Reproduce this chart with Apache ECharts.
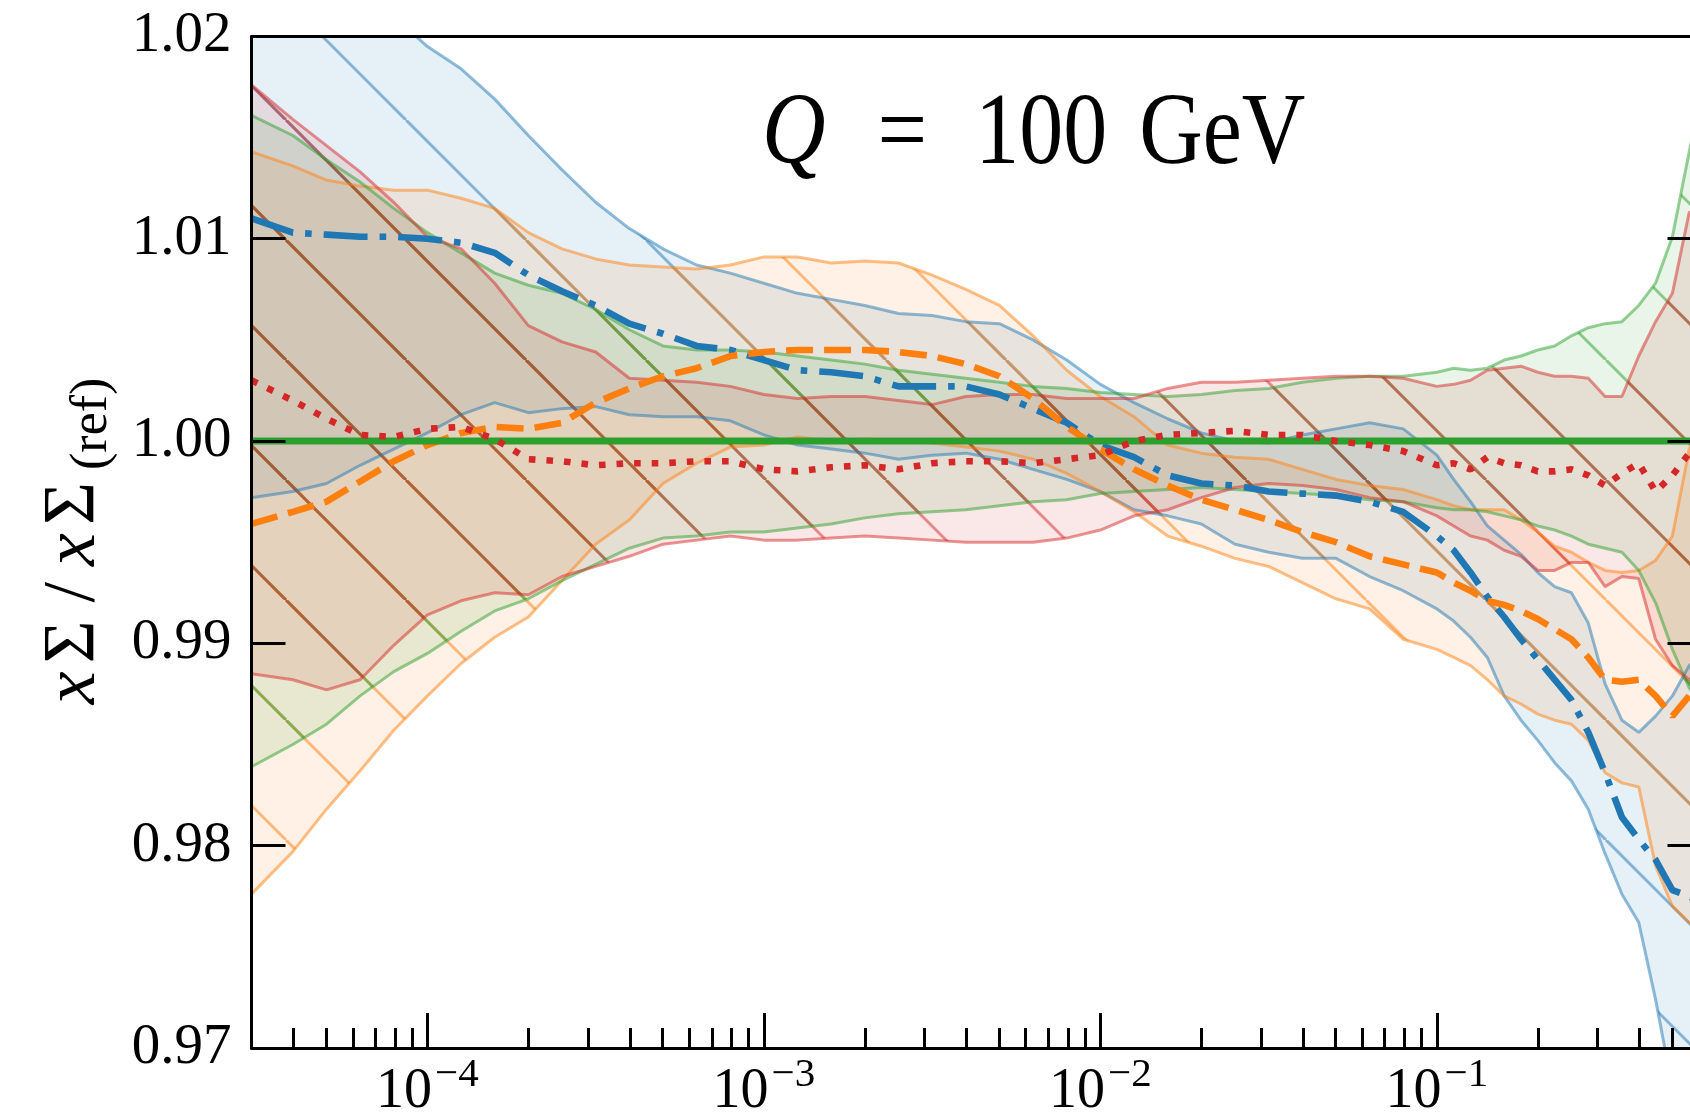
<!DOCTYPE html>
<html><head><meta charset="utf-8">
<script src="https://cdn.jsdelivr.net/npm/echarts@6/dist/echarts.min.js"></script>
<style>
html,body{margin:0;padding:0;overflow:hidden;background:#fff;width:1690px;height:1116px;}
#chart{position:absolute;left:0;top:0;width:1800px;height:1116px;}
</style></head><body><div id="chart"></div>
<script>
// x positions as log10(x)
const xExp = [-4.523, -4.4, -4.3, -4.2, -4.1, -4.0, -3.9, -3.8, -3.7, -3.6,
  -3.5, -3.4, -3.3, -3.2, -3.1, -3.0, -2.9, -2.8, -2.7, -2.6,
  -2.5, -2.4, -2.3, -2.2, -2.1, -2.0, -1.9, -1.8, -1.7, -1.6,
  -1.5, -1.4, -1.3, -1.2, -1.1, -1.0, -0.95, -0.9, -0.85, -0.8,
  -0.75, -0.7, -0.65, -0.6, -0.55, -0.5, -0.45, -0.4, -0.35, -0.3,
  -0.25, -0.21];

const blueMid = [1.0110, 1.0103, 1.0102, 1.0101, 1.0101, 1.0100, 1.0098, 1.0093, 1.0082, 1.0074,
  1.0067, 1.0058, 1.0053, 1.0047, 1.0045, 1.0040, 1.0035, 1.0034, 1.0032, 1.0027,
  1.0027, 1.0027, 1.0023, 1.0016, 1.0009, 0.9998, 0.9992, 0.9983, 0.9979, 0.9978,
  0.9975, 0.9974, 0.9973, 0.9970, 0.9965, 0.9953, 0.9946, 0.9935, 0.9923, 0.9913,
  0.9902, 0.9892, 0.9882, 0.9872, 0.9856, 0.9836, 0.9814, 0.9803, 0.9793, 0.9778,
  0.9775, 0.9770];
const orangeMid = [0.9959, 0.9965, 0.9970, 0.9980, 0.9990, 0.9998, 1.0004, 1.0007, 1.0006, 1.0009,
  1.0019, 1.0026, 1.0032, 1.0036, 1.0042, 1.0044, 1.0045, 1.0045, 1.0045, 1.0044,
  1.0042, 1.0038, 1.0032, 1.0021, 1.0007, 0.9996, 0.9986, 0.9978, 0.9971, 0.9966,
  0.9961, 0.9955, 0.9950, 0.9943, 0.9939, 0.9935, 0.9930, 0.9926, 0.9921, 0.9919,
  0.9916, 0.9912, 0.9907, 0.9902, 0.9893, 0.9882, 0.9881, 0.9882, 0.9874, 0.9864,
  0.9874, 0.9880];
const greenMid = [1, 1, 1, 1, 1, 1, 1, 1, 1, 1,
  1, 1, 1, 1, 1, 1, 1, 1, 1, 1,
  1, 1, 1, 1, 1, 1, 1, 1, 1, 1,
  1, 1, 1, 1, 1, 1, 1, 1, 1, 1,
  1, 1, 1, 1, 1, 1, 1, 1, 1, 1,
  1, 1];
const redMid = [1.0030, 1.0020, 1.0011, 1.0003, 1.0002, 1.0006, 1.0007, 1.0001, 0.9991, 0.9990,
  0.9988, 0.9989, 0.9989, 0.9990, 0.9990, 0.9986, 0.9985, 0.9987, 0.9988, 0.9986,
  0.9989, 0.9990, 0.9990, 0.9989, 0.9991, 0.9993, 1.0000, 1.0003, 1.0004, 1.0005,
  1.0003, 1.0003, 1.0000, 0.9998, 0.9995, 0.9988, 0.9989, 0.9986, 0.9992, 0.9989,
  0.9988, 0.9985, 0.9985, 0.9986, 0.9983, 0.9978, 0.9984, 0.9989, 0.9975, 0.9983,
  0.9994, 1.0000];

const blueUp = [1.0270, 1.0255, 1.0240, 1.0225, 1.0210, 1.0195, 1.0184, 1.0169, 1.0151, 1.0134,
  1.0118, 1.0105, 1.0095, 1.0087, 1.0083, 1.0078, 1.0073, 1.0070, 1.0067, 1.0063,
  1.0062, 1.0059, 1.0058, 1.0050, 1.0040, 1.0028, 1.0019, 1.0011, 1.0004, 1.0000,
  0.9999, 1.0003, 1.0006, 1.0009, 1.0006, 0.9993, 0.9981, 0.9970, 0.9958, 0.9951,
  0.9944, 0.9935, 0.9928, 0.9925, 0.9910, 0.9880, 0.9862, 0.9856, 0.9864, 0.9874,
  0.9889, 0.9895];
const blueLo = [0.9972, 0.9975, 0.9979, 0.9988, 0.9996, 1.0004, 1.0013, 1.0019, 1.0014, 1.0016,
  1.0017, 1.0013, 1.0012, 1.0012, 1.0010, 1.0003, 0.9998, 0.9996, 0.9994, 0.9991,
  0.9993, 0.9994, 0.9991, 0.9986, 0.9981, 0.9975, 0.9966, 0.9963, 0.9959, 0.9949,
  0.9945, 0.9942, 0.9942, 0.9933, 0.9926, 0.9917, 0.9911, 0.9903, 0.9893, 0.9874,
  0.9862, 0.9852, 0.9841, 0.9832, 0.9818, 0.9796, 0.9776, 0.9762, 0.9724, 0.9680,
  0.9650, 0.9630];
const orangeUp = [1.0143, 1.0136, 1.0129, 1.0126, 1.0124, 1.0124, 1.0120, 1.0115, 1.0103, 1.0095,
  1.0090, 1.0087, 1.0086, 1.0085, 1.0087, 1.0091, 1.0091, 1.0088, 1.0089, 1.0088,
  1.0082, 1.0075, 1.0067, 1.0052, 1.0035, 1.0022, 1.0012, 0.9998, 0.9994, 0.9992,
  0.9991, 0.9986, 0.9981, 0.9978, 0.9976, 0.9971, 0.9968, 0.9966, 0.9966, 0.9966,
  0.9961, 0.9955, 0.9948, 0.9945, 0.9940, 0.9936, 0.9935, 0.9936, 0.9941, 0.9953,
  0.9996, 1.0010];
const orangeLo = [0.9776, 0.9797, 0.9818, 0.9837, 0.9857, 0.9874, 0.9890, 0.9903, 0.9913, 0.9931,
  0.9949, 0.9961, 0.9979, 0.9989, 0.9997, 0.9998, 1.0002, 1.0000, 1.0001, 1.0000,
  0.9999, 0.9997, 0.9995, 0.9991, 0.9984, 0.9975, 0.9965, 0.9953, 0.9948, 0.9942,
  0.9938, 0.9930, 0.9922, 0.9917, 0.9902, 0.9897, 0.9893, 0.9889, 0.9882, 0.9874,
  0.9870, 0.9865, 0.9862, 0.9860, 0.9852, 0.9836, 0.9831, 0.9829, 0.9790, 0.9770,
  0.9762, 0.9755];
const greenUp = [1.0161, 1.0151, 1.0139, 1.0128, 1.0115, 1.0103, 1.0093, 1.0083, 1.0077, 1.0073,
  1.0065, 1.0055, 1.0047, 1.0045, 1.0045, 1.0044, 1.0042, 1.0040, 1.0038, 1.0035,
  1.0033, 1.0031, 1.0029, 1.0027, 1.0026, 1.0024, 1.0023, 1.0022, 1.0023, 1.0025,
  1.0026, 1.0029, 1.0031, 1.0032, 1.0032, 1.0034, 1.0036, 1.0035, 1.0036, 1.0040,
  1.0042, 1.0045, 1.0047, 1.0052, 1.0056, 1.0058, 1.0059, 1.0067, 1.0078, 1.0101,
  1.0143, 1.0175];
const greenLo = [0.9839, 0.9850, 0.9860, 0.9874, 0.9886, 0.9895, 0.9906, 0.9916, 0.9922, 0.9931,
  0.9939, 0.9947, 0.9952, 0.9953, 0.9955, 0.9955, 0.9957, 0.9959, 0.9962, 0.9964,
  0.9965, 0.9966, 0.9968, 0.9970, 0.9971, 0.9974, 0.9975, 0.9976, 0.9977, 0.9976,
  0.9975, 0.9974, 0.9973, 0.9971, 0.9970, 0.9967, 0.9966, 0.9966, 0.9965, 0.9963,
  0.9961, 0.9958, 0.9956, 0.9953, 0.9949, 0.9947, 0.9945, 0.9936, 0.9920, 0.9897,
  0.9878, 0.9868];
const redUp = [1.0176, 1.0159, 1.0146, 1.0133, 1.0118, 1.0101, 1.0095, 1.0078, 1.0057, 1.0049,
  1.0044, 1.0031, 1.0030, 1.0029, 1.0027, 1.0023, 1.0021, 1.0022, 1.0022, 1.0020,
  1.0018, 1.0022, 1.0023, 1.0023, 1.0021, 1.0021, 1.0021, 1.0026, 1.0029, 1.0029,
  1.0030, 1.0031, 1.0032, 1.0032, 1.0031, 1.0027, 1.0028, 1.0030, 1.0035, 1.0036,
  1.0037, 1.0034, 1.0032, 1.0032, 1.0031, 1.0022, 1.0022, 1.0042, 1.0059, 1.0073,
  1.0113, 1.0115];
const redLo = [0.9885, 0.9882, 0.9877, 0.9882, 0.9899, 0.9914, 0.9921, 0.9925, 0.9924, 0.9933,
  0.9938, 0.9943, 0.9949, 0.9951, 0.9953, 0.9951, 0.9951, 0.9952, 0.9953, 0.9952,
  0.9951, 0.9950, 0.9950, 0.9950, 0.9952, 0.9956, 0.9963, 0.9966, 0.9972, 0.9977,
  0.9979, 0.9978, 0.9976, 0.9972, 0.9970, 0.9963, 0.9958, 0.9953, 0.9951, 0.9946,
  0.9943, 0.9936, 0.9936, 0.9940, 0.9940, 0.9928, 0.9933, 0.9932, 0.9902, 0.9889,
  0.9882, 0.9885];

const majorExp = [-4, -3, -2, -1];
const yTickLabels = ['0.97', '0.98', '0.99', '1.00', '1.01', '1.02'];
const titleText = '{q|Q}{e|=}{n|100}{g|GeV}';
const yTitleText = '{i|x}{n|\u03A3}{m|/}{i|x}{n|\u03A3}{s|(ref)}';

const X_MIN = Math.log10(3e-5), X_MAX = -0.2135;
const minorExp = [];
for (let d = -5; d <= -1; d++) for (let k = 2; k <= 9; k++) {
  const v = d + Math.log10(k);
  if (v > X_MIN && v < X_MAX) minorExp.push(v);
}

const COL = { blue: '31,119,180', orange: '255,127,14', green: '44,160,44', red: '214,39,40' };
const SERIF = 'Liberation Serif';
const F = (sz, it) => (it ? 'italic ' : '') + sz + 'px "Liberation Serif", serif';

function hatch(rgb) {
  const S = 120, c = 46;
  const cv = document.createElement('canvas');
  cv.width = S; cv.height = S;
  const g = cv.getContext('2d');
  g.fillStyle = 'rgba(' + rgb + ',0.11)';
  g.fillRect(0, 0, S, S);
  g.strokeStyle = 'rgba(' + rgb + ',0.5)';
  g.lineWidth = 3;
  for (let k = -2; k <= 2; k++) {
    g.beginPath(); g.moveTo(c + k * S, 0); g.lineTo(c + k * S + S, S); g.stroke();
  }
  return { image: cv, repeat: 'repeat' };
}

function band(lo, up, rgb) {
  const fill = hatch(rgb);
  return {
    type: 'custom', clip: true, silent: true, z: 1,
    data: xExp.map((e, i) => [e, lo[i], up[i]]),
    encode: { x: 0, y: [1, 2] },
    renderItem: function (params, api) {
      if (params.dataIndex !== 0) return null;
      const pts = [];
      for (let i = 0; i < xExp.length; i++) pts.push(api.coord([xExp[i], up[i]]));
      for (let i = xExp.length - 1; i >= 0; i--) pts.push(api.coord([xExp[i], lo[i]]));
      return { type: 'polygon', shape: { points: pts }, style: { fill: fill, stroke: null } };
    }
  };
}
function line(arr, color, width, type, z) {
  return {
    type: 'line', data: xExp.map((e, i) => [e, arr[i]]), symbol: 'none', silent: true,
    clip: true, z: z, lineStyle: { color: color, width: width, type: type, cap: 'butt' }
  };
}
const edge = rgb => 'rgba(' + rgb + ',0.5)';

const series = [
  band(blueLo, blueUp, COL.blue),
  band(orangeLo, orangeUp, COL.orange),
  band(greenLo, greenUp, COL.green),
  band(redLo, redUp, COL.red),
  line(blueLo, edge(COL.blue), 3, 'solid', 2), line(blueUp, edge(COL.blue), 3, 'solid', 2),
  line(orangeLo, edge(COL.orange), 3, 'solid', 2), line(orangeUp, edge(COL.orange), 3, 'solid', 2),
  line(greenLo, edge(COL.green), 3, 'solid', 2), line(greenUp, edge(COL.green), 3, 'solid', 2),
  line(redLo, edge(COL.red), 3, 'solid', 2), line(redUp, edge(COL.red), 3, 'solid', 2),
  line(blueMid, '#1f77b4', 6.6, [44, 12, 6.6, 12], 3),
  line(orangeMid, '#ff7f0e', 6.6, [27, 11], 3),
  line(greenMid, '#2ca02c', 7, 'solid', 3),
  line(redMid, '#d62728', 6.6, [6.6, 11], 3)
];

const axLine = { show: true, onZero: false, lineStyle: { color: '#000', width: 3 } };
const tickStyle = { color: '#000', width: 3 };

const chart = echarts.init(document.getElementById('chart'), null, { renderer: 'canvas' });
chart.setOption({
  animation: false,
  backgroundColor: '#fff',
  grid: { left: 251.5, top: 36.4, width: 1450, height: 1011.5, containLabel: false, outerBoundsMode: 'none' },
  xAxis: [
    { type: 'value', min: X_MIN, max: X_MAX, position: 'bottom', z: 10,
      axisLine: axLine, splitLine: { show: false },
      axisTick: { show: true, inside: true, length: 35, lineStyle: tickStyle, customValues: majorExp },
      axisLabel: { show: true, customValues: majorExp, margin: 7, color: '#000',
        formatter: v => '{a|10}{b|\u2212' + Math.round(-v) + '}',
        rich: {
          a: { fontFamily: SERIF, fontSize: 56, color: '#000', verticalAlign: 'bottom' },
          b: { fontFamily: SERIF, fontSize: 41, color: '#000', verticalAlign: 'bottom', padding: [0, 0, 24, 3] }
        } } },
    { type: 'value', min: X_MIN, max: X_MAX, position: 'bottom', z: 10,
      axisLine: { show: false }, splitLine: { show: false }, axisLabel: { show: false },
      axisTick: { show: true, inside: true, length: 20, lineStyle: tickStyle, customValues: minorExp } },
    { type: 'value', min: X_MIN, max: X_MAX, position: 'top', z: 10,
      axisLine: axLine, splitLine: { show: false }, axisLabel: { show: false }, axisTick: { show: false } }
  ],
  yAxis: [
    { type: 'value', min: 0.97, max: 1.02, interval: 0.01, position: 'left', z: 10,
      axisLine: axLine, splitLine: { show: false },
      axisTick: { show: true, inside: true, length: 34, lineStyle: tickStyle },
      axisLabel: { margin: 20, color: '#000', fontFamily: SERIF, fontSize: 57,
        formatter: v => yTickLabels[Math.round((v - 0.97) * 100)] } },
    { type: 'value', min: 0.97, max: 1.02, interval: 0.01, position: 'right', z: 10,
      axisLine: axLine, splitLine: { show: false }, axisLabel: { show: false },
      axisTick: { show: true, inside: true, length: 34, lineStyle: tickStyle } }
  ],
  graphic: [
    { type: 'text', x: 762, y: 136, scaleY: 1.15, z: 20, silent: true,
      style: { text: titleText, align: 'left', verticalAlign: 'middle', fill: '#000',
        font: F(88),
        rich: {
          q: { font: F(88, true), fill: '#000' },
          e: { font: F(88), fill: '#000', padding: [0, 0, 0, 52] },
          n: { font: F(88), fill: '#000', padding: [0, 0, 0, 48] },
          g: { font: F(88), fill: '#000', padding: [0, 0, 0, 32] }
        } } },
    { type: 'text', x: 78, y: 544, rotation: Math.PI / 2, z: 20, silent: true,
      style: { text: yTitleText, align: 'center', verticalAlign: 'middle', fill: '#000',
        font: F(74),
        rich: {
          i: { font: F(74, true), fill: '#000', verticalAlign: 'top', padding: [0, 6, 0, 6] },
          n: { font: F(74), fill: '#000', verticalAlign: 'top', padding: [0, 8, 0, 2] },
          m: { font: F(74), fill: '#000', verticalAlign: 'top', padding: [0, 10, 0, 10] },
          s: { font: F(52), fill: '#000', verticalAlign: 'top', padding: [28, 0, 0, 4] }
        } } }
  ],
  series: series
});
</script></body></html>
